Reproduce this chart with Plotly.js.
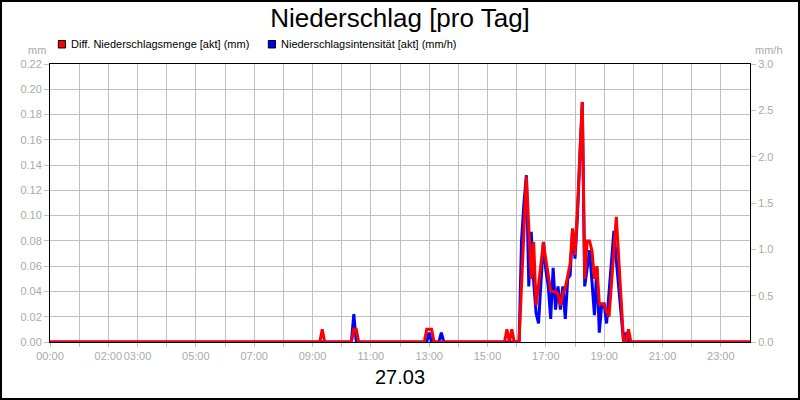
<!DOCTYPE html>
<html>
<head>
<meta charset="utf-8">
<script src="https://cdn.plot.ly/plotly-3.0.1.min.js"></script>
<style>
  body { margin: 0; background: #fff; }
  #wrap { position: relative; width: 800px; height: 400px; }
  #frame { position: absolute; left: 0; top: 0; width: 800px; height: 400px; box-sizing: border-box; border: 2px solid #000; pointer-events: none; }
</style>
</head>
<body>
<div id="wrap">
  <div id="plot"></div>
  <div id="frame"></div>
</div>
<script>
// day shown on the chart (27.03)
let day = '2024-03-27';
let nextDay = '2024-03-28';

// Diff. Niederschlagsmenge [akt] (mm), 5-minute values
let mengeTimes = ['00:00','09:15','09:20','09:25','10:20','10:25','10:30','10:35',
  '12:50','12:55','13:00','13:05','13:10','15:35','15:40','15:45','15:50','15:55','16:00','16:05',
  '16:10','16:15','16:20','16:25','16:30','16:35','16:40','16:45','16:50','16:55',
  '17:00','17:05','17:10','17:15','17:20','17:25','17:30','17:35','17:40','17:45','17:50','17:55',
  '18:00','18:05','18:10','18:15','18:20','18:25','18:30','18:35','18:40','18:45','18:50','18:55',
  '19:00','19:05','19:10','19:15','19:20','19:25','19:30','19:35','19:40','19:45','19:50','19:55','24:00'];
let mengeValues = [0, 0, 0.01, 0, 0, 0.01, 0.01, 0,
  0, 0.01, 0.01, 0.01, 0, 0, 0.01, 0, 0.01, 0, 0, 0,
  0.045, 0.088, 0.131, 0.09, 0.05, 0.079, 0.029, 0.045, 0.062, 0.079,
  0.065, 0.052, 0.041, 0.040, 0.040, 0.038, 0.029, 0.038, 0.043, 0.052, 0.062, 0.090,
  0.069, 0.105, 0.148, 0.190, 0.05, 0.080, 0.080, 0.072, 0.050, 0.060, 0.030, 0.030,
  0.030, 0.024, 0.020, 0.046, 0.072, 0.099, 0.066, 0.033, 0, 0, 0.01, 0, 0];

// Niederschlagsintensität [akt] (mm/h)
let intensTimes = ['00:00','10:20','10:25','10:30','12:55','13:00','13:05','13:20','13:25','13:30',
  '16:05','16:10','16:15','16:20','16:25','16:30','16:35','16:40','16:45','16:50','16:55',
  '17:00','17:05','17:10','17:15','17:20','17:25','17:30','17:35','17:40','17:45','17:50','17:55',
  '18:00','18:05','18:10','18:15','18:20','18:25','18:30','18:35','18:40','18:45','18:50','18:55',
  '19:00','19:05','19:10','19:15','19:20','19:25','19:30','19:35','19:40','19:45','19:50','24:00'];
let intensValues = [0, 0, 0.30, 0, 0, 0.10, 0, 0, 0.10, 0,
  0, 1.10, 1.50, 1.80, 0.60, 1.19, 0.65, 0.31, 0.20, 0.70, 1.08,
  0.78, 0.60, 0.25, 0.80, 0.35, 0.60, 0.35, 0.60, 0.25, 0.68, 0.72, 1.21,
  0.90, 1.35, 2.00, 2.59, 0.60, 0.80, 0.99, 0.65, 0.29, 0.80, 0.10, 0.41,
  0.41, 0.20, 0.53, 0.86, 1.20, 0.88, 0.56, 0.24, 0, 0.10, 0, 0];

let hourLabels = ['00:00','','02:00','03:00','','05:00','','07:00','','09:00','','11:00',
  '','13:00','','15:00','','17:00','','19:00','','21:00','','23:00'];

let legendNames = ['Diff. Niederschlagsmenge [akt] (mm)', 'Niederschlagsintensität [akt] (mm/h)'];

function toDate(t){
    if (t == '24:00') return nextDay + ' 00:00';
    return day + ' ' + t;
}

let fam = 'Arial, "Liberation Sans", sans-serif';
let grey = '#a9a9a9';

var red = {type:'scatter', mode:'lines', x: mengeTimes.map(toDate), y: mengeValues, yaxis:'y2',
    line:{color:'#ff0000', width:3}, name: legendNames[0], hoverinfo:'skip'};
var blue = {type:'scatter', mode:'lines', x: intensTimes.map(toDate), y: intensValues, yaxis:'y',
    line:{color:'#0000ff', width:3}, name: legendNames[1], hoverinfo:'skip'};

var tickvals = hourLabels.map((_, h) => day + ' ' + String(h).padStart(2, '0') + ':00');

// paper coords: x = (px - 50) / 700, y = (342 - py) / 278
var layout = {
    width: 800, height: 400,
    margin: {l: 50, r: 50, t: 64, b: 58},
    paper_bgcolor: '#fff', plot_bgcolor: '#fff',
    showlegend: false,
    font: {family: fam, size: 11, color: '#000'},
    title: {text: 'Niederschlag [pro Tag]', font: {family: fam, size: 26, color: '#000'},
        x: 0.5, xanchor: 'center', y: 0.955, yanchor: 'middle'},
    xaxis: {
        type: 'date', range: [day + ' 00:00', nextDay + ' 00:00'],
        tickmode: 'array', tickvals: tickvals, ticktext: hourLabels, tickangle: 0,
        ticks: 'outside', ticklen: 4, tickcolor: '#c0c0c0',
        tickfont: {size: 11, color: grey},
        showgrid: true, gridcolor: '#c0c0c0', gridwidth: 1,
        showline: true, linecolor: '#000', linewidth: 1, mirror: true,
        zeroline: false, layer: 'below traces',
        title: {text: '27.03', font: {size: 20, color: '#000'}, standoff: 8},
    },
    yaxis: {
        side: 'right', range: [0, 3], tick0: 0, dtick: 0.5, tickformat: '.1f',
        ticks: 'outside', ticklen: 5, tickcolor: '#c0c0c0',
        tickfont: {size: 11, color: grey},
        showgrid: false, zeroline: false,
        showline: true, linecolor: '#000', linewidth: 1,
    },
    yaxis2: {
        overlaying: 'y', side: 'left', anchor: 'x',
        range: [0, 0.22], tick0: 0, dtick: 0.02, tickformat: '.2f',
        ticks: 'outside', ticklen: 5, tickcolor: '#c0c0c0',
        tickfont: {size: 11, color: grey},
        showgrid: true, gridcolor: '#c0c0c0', gridwidth: 1, zeroline: false,
        showline: true, linecolor: '#000', linewidth: 1,
    },
    annotations: [
        {xref:'paper', yref:'paper', x: -0.003, y: 1.0504, xanchor:'right', yanchor:'middle',
         text:'mm', showarrow:false, font:{size:11, color:grey}},
        {xref:'paper', yref:'paper', x: 1.004, y: 1.0504, xanchor:'left', yanchor:'middle',
         text:'mm/h', showarrow:false, font:{size:11, color:grey}},
        {xref:'paper', yref:'paper', x: 0.0265, y: 1.071, xanchor:'left', yanchor:'middle',
         text: legendNames[0], showarrow:false, font:{size:11, color:'#000'}},
        {xref:'paper', yref:'paper', x: 0.3265, y: 1.071, xanchor:'left', yanchor:'middle',
         text: legendNames[1], showarrow:false, font:{size:11, color:'#000'}},
    ],
    shapes: [
        {type:'rect', xref:'paper', yref:'paper', x0: 0.0119, x1: 0.0221, y0: 1.0576, y1: 1.0845,
         fillcolor:'#ff0000', line:{color:'#000', width:1}},
        {type:'rect', xref:'paper', yref:'paper', x0: 0.3119, x1: 0.3221, y0: 1.0576, y1: 1.0845,
         fillcolor:'#0000ff', line:{color:'#000', width:1}},
    ],
    hovermode: false,
};

var config = {displayModeBar: false, staticPlot: true};
Plotly.newPlot('plot', [blue, red], layout, config);
</script>
</body>
</html>
